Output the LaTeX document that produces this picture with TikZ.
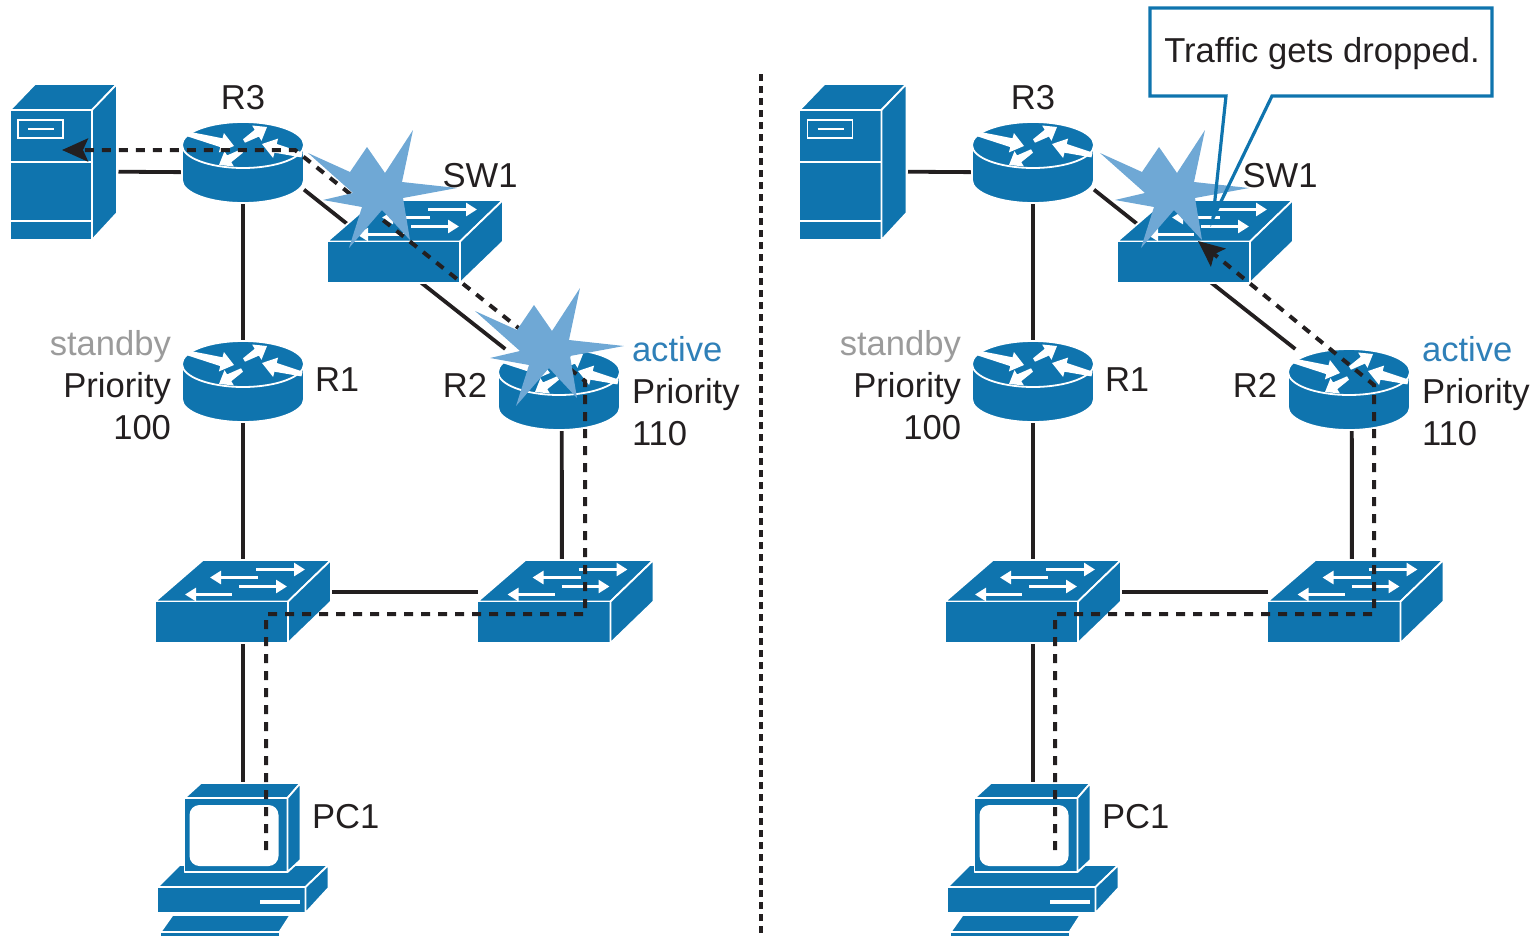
\documentclass[tikz,border=0pt]{standalone}
\usepackage{fontspec}
\setmainfont{Liberation Sans}
\usepackage{tikz}
\usetikzlibrary{arrows.meta,positioning}
\definecolor{devblue}{HTML}{0F74AE}
\definecolor{burstblue}{HTML}{6FA8D5}
\definecolor{ink}{HTML}{231F20}
\definecolor{activeblue}{HTML}{2F80B8}
\definecolor{standbygray}{HTML}{9B9B9B}
\tikzstyle{hit} = [rectangle, inner sep=0pt, outer sep=0pt]
\tikzstyle{routerbox} = [hit, minimum width=61pt, minimum height=40.5pt]
\tikzstyle{switchbox} = [hit, minimum width=88pt, minimum height=41.5pt]
\tikzstyle{serverbox} = [hit, minimum width=55pt, minimum height=78pt]
\tikzstyle{pcbox} = [hit, minimum width=85.5pt, minimum height=77pt]
\tikzstyle{lbl} = [inner sep=0pt, outer sep=0pt, text=ink, font=\fontsize{17.3}{21}\selectfont]
\tikzstyle{link} = [draw, line width=1.9pt, color=ink]
\tikzstyle{flow} = [draw, line width=2pt, color=ink, dash pattern=on 4.5pt off 4pt]
\tikzstyle{icon} = [fill=devblue, draw=white, line width=0.9pt, line join=round]
\tikzstyle{swarrow} = [white, line width=1.3pt, -{Triangle[length=5.5pt,width=6.5pt]}]
\tikzset{
  router/.pic={
    \path[icon] (-61,-17.5) -- (-61,17.5) arc[start angle=180,end angle=0,x radius=61,y radius=23] -- (61,-17.5) arc[start angle=0,end angle=-180,x radius=61,y radius=23] -- cycle;
    \draw[white, line width=0.9pt] (-61,-17.5) arc[start angle=180,end angle=0,x radius=61,y radius=23];
    \begin{scope}[shift={(0,-17.5)}]
      \fill[white] (-54.4,-13.4) -- (-20.5,-6.7) -- (-19.1,-12) -- (-9,1) -- (-24.1,7.4) -- (-22.7,2.1) -- (-55.6,-8.6) -- cycle;
      \fill[white] (0,-5.7) -- (11.7,-15.2) -- (9.1,-19.5) -- (24,-18) -- (18.5,-4.2) -- (15.9,-8.4) -- (2,-2.3) -- cycle;
      \fill[white] (59.6,7.6) -- (33.7,-1.1) -- (35.1,-6.4) -- (19,-1) -- (30.1,13) -- (31.5,7.7) -- (58.4,12.4) -- cycle;
      \fill[white] (-2,4.3) -- (-15.9,10.4) -- (-18.5,6.2) -- (-24,20) -- (-9.1,21.4) -- (-11.7,17.2) -- (0,7.7) -- cycle;
    \end{scope}
  },
  switch/.pic={
    \path[icon] (-88,0) -- (-40,-41.5) -- (88,-41.5) -- (45,0) -- cycle;
    \path[icon] (-88,0) rectangle (45,41.5);
    \path[icon] (45,0) -- (88,-41.5) -- (88,0) -- (45,41.5) -- cycle;
    \draw[swarrow] (13,-32) -- (62,-32);
    \draw[swarrow] (15,-24) -- (-33,-24);
    \draw[swarrow] (-4,-15) -- (44,-15);
    \draw[swarrow] (-11,-7) -- (-58,-7);
  },
  server/.pic={
    \path[icon] (-53.5,-52) -- (-28.5,-78) -- (53.5,-78) -- (28.5,-52) -- cycle;
    \path[icon] (-53.5,-52) rectangle (28.5,78);
    \path[icon] (28.5,-52) -- (53.5,-78) -- (53.5,51) -- (28.5,78) -- cycle;
    \draw[white, line width=0.9pt] (-53.5,0) -- (28.5,0) (-53.5,59) -- (28.5,59);
    \draw[white, line width=0.9pt] (-45.5,-42) rectangle (-0.5,-24) (-35.5,-33) -- (-9.5,-33);
  },
  pcicon/.pic={
    \path[icon] (-63.5,5) -- (85.5,5) -- (62.5,27) -- (-85.5,27) -- cycle;
    \path[icon] (-85.5,27) rectangle (62.5,53);
    \path[icon] (62.5,27) -- (85.5,5) -- (85.5,28) -- (62.5,53) -- cycle;
    \fill[white] (16.5,40) rectangle (56.5,44);
    \path[icon] (-70.5,55) -- (47.5,55) -- (36.5,72) -- (-82.5,72) -- cycle;
    \path[icon] (-82.5,72) rectangle (36.5,77);
    \path[icon] (-58.5,-62) -- (-42,-77) -- (57.5,-77) -- (44.5,-62) -- cycle;
    \path[icon] (-58.5,-62) rectangle (44.5,12);
    \path[icon] (44.5,-62) -- (57.5,-77) -- (57.5,0) -- (44.5,12) -- cycle;
    \fill[white, rounded corners=5pt] (-53.5,-55) rectangle (35.5,6);
  },
  burst/.pic={
    \fill[burstblue] (-72,-37) -- (-30,-18) -- (-13,-43) -- (5,-17) -- (33,-60) -- (22,-8) -- (77,-2) -- (23,8) -- (30,50) -- (2,20) -- (-31,58) -- (-18,17) -- (-57,10) -- (-27,3) -- cycle;
  }
}

\begin{document}
\begin{tikzpicture}[x=0.5pt, y=-0.5pt, node distance=100pt]
	\useasboundingbox (0,0) rectangle (1537,937);
	% Place nodes, left side
	\node [routerbox] (l-r3) at (243,162.5) {};
	\node [serverbox] (l-srv) at (63.5,162) {};
	\node [switchbox] (l-sw1) at (415,241.5) {};
	\node [routerbox, below of=l-r3, node distance=109.5pt] (l-r1) {};
	\node [routerbox] (l-r2) at (559,389.5) {};
	\node [switchbox, below of=l-r1, node distance=110pt] (l-swa) {};
	\node [switchbox, right of=l-swa, node distance=161.25pt] (l-swb) {};
	\node [pcbox, below of=l-swa, node distance=129.25pt] (l-pc) {};
	\coordinate (l-start) at (266,850);
	\coordinate (l-down) at (585,614);
	\coordinate (l-up) at (585,381);
	\coordinate (l-bend) at (295,150);
	\coordinate (l-end) at (62,150);
	% Place nodes, right side
	\node [routerbox] (r-r3) at (1033,162.5) {};
	\node [serverbox] (r-srv) at (853,162) {};
	\node [switchbox] (r-sw1) at (1205,241.5) {};
	\node [routerbox, below of=r-r3, node distance=109.5pt] (r-r1) {};
	\node [routerbox] (r-r2) at (1349,389.5) {};
	\node [switchbox, below of=r-r1, node distance=110pt] (r-swa) {};
	\node [switchbox, right of=r-swa, node distance=161.25pt] (r-swb) {};
	\node [pcbox, below of=r-swa, node distance=129.25pt] (r-pc) {};
	\coordinate (r-start) at (1055,850);
	\coordinate (r-down) at (1374,614);
	\coordinate (r-up) at (1374,385);
	\coordinate (r-end) at (1198,241);
	% Draw edges
	\path [link] (l-srv.-10) -- (l-r3.189);
	\path [link] (l-r3) -- (l-r1);
	\path [link] (l-r3.-24) -- (l-sw1.-81);
	\path [link] (l-sw1.-81) -- (l-r2.143);
	\path [link] (l-r1) -- (l-swa);
	\path [link] (l-r2.-86) -- (l-swb.95);
	\path [link] (l-swa.6) -- (l-swb.174);
	\path [link] (l-swa) -- (l-pc);
	\path [link] (r-srv.-10) -- (r-r3.189);
	\path [link] (r-r3) -- (r-r1);
	\path [link] (r-r3.-24) -- (r-sw1.-81);
	\path [link] (r-sw1.-81) -- (r-r2.143);
	\path [link] (r-r1) -- (r-swa);
	\path [link] (r-r2.-86) -- (r-swb.95);
	\path [link] (r-swa.6) -- (r-swb.174);
	\path [link] (r-swa) -- (r-pc);
	% Draw devices
	\pic at (l-srv) {server};
	\pic at (l-r3) {router};
	\pic at (l-sw1) {switch};
	\pic at (l-r1) {router};
	\pic at (l-r2) {router};
	\pic at (l-swa) {switch};
	\pic at (l-swb) {switch};
	\pic at (l-pc) {pcicon};
	\pic at (r-srv) {server};
	\pic at (r-r3) {router};
	\pic at (r-sw1) {switch};
	\pic at (r-r1) {router};
	\pic at (r-r2) {router};
	\pic at (r-swa) {switch};
	\pic at (r-swb) {switch};
	\pic at (r-pc) {pcicon};
	% Traffic paths
	\draw [flow, -{Stealth[length=13pt,width=11.5pt,inset=2.5pt]}] (l-start) |- (l-down) -- (l-up) -- (l-bend) -- (l-end);
	\draw [flow, -{Stealth[length=13pt,width=11.5pt,inset=2.5pt]}] (r-start) |- (r-down) -- (r-up) -- (r-end);
	% Failures
	\pic at (380,190) {burst};
	\pic at (547,348) {burst};
	\pic at (1172,190) {burst};
	% Labels
	\node [lbl, above=6pt of l-r3] (l-r3-lbl) {R3};
	\node [lbl, above=6pt of l-sw1, xshift=32.5pt] (l-sw1-lbl) {SW1};
	\node [lbl, right=5.5pt of l-r1, yshift=1pt] (l-r1-lbl) {R1};
	\node [lbl, left=5.5pt of l-r2, yshift=2pt] (l-r2-lbl) {R2};
	\node [lbl, anchor=west] (l-pc-lbl) at (312,817) {PC1};
	\node [lbl, left=5.5pt of l-r1, yshift=-2pt, align=right] (l-r1-prio) {\textcolor{standbygray}{standby}\\Priority\\100};
	\node [lbl, right=6pt of l-r2, yshift=-1pt, align=left] (l-r2-prio) {\textcolor{activeblue}{active}\\Priority\\110};
	\node [lbl, above=6pt of r-r3] (r-r3-lbl) {R3};
	\node [lbl, above=6pt of r-sw1, xshift=37.5pt] (r-sw1-lbl) {SW1};
	\node [lbl, right=5.5pt of r-r1, yshift=1pt] (r-r1-lbl) {R1};
	\node [lbl, left=5.5pt of r-r2, yshift=2pt] (r-r2-lbl) {R2};
	\node [lbl, anchor=west] (r-pc-lbl) at (1102,817) {PC1};
	\node [lbl, left=5.5pt of r-r1, yshift=-2pt, align=right] (r-r1-prio) {\textcolor{standbygray}{standby}\\Priority\\100};
	\node [lbl, right=6pt of r-r2, yshift=-1pt, align=left] (r-r2-prio) {\textcolor{activeblue}{active}\\Priority\\110};
	% Callout
	\node [hit, minimum width=171pt, minimum height=44pt, lbl] (note) at (1321,52) {};
	\node [lbl] (note-text) at (1322,54) {Traffic gets dropped.};
	\coordinate (note-tip) at (1213,218);
	\draw [devblue, line width=1.6pt, line join=miter] (note.north west) -- (note.north east) -- (note.south east) -- (1272,96) -- (note-tip) -- (1226,96) -- (note.south west) -- cycle;
	% Divider
	\draw [ink, line width=1.7pt, dash pattern=on 3.5pt off 2.5pt] (761,74) -- (761,933);
\end{tikzpicture}
\end{document}
